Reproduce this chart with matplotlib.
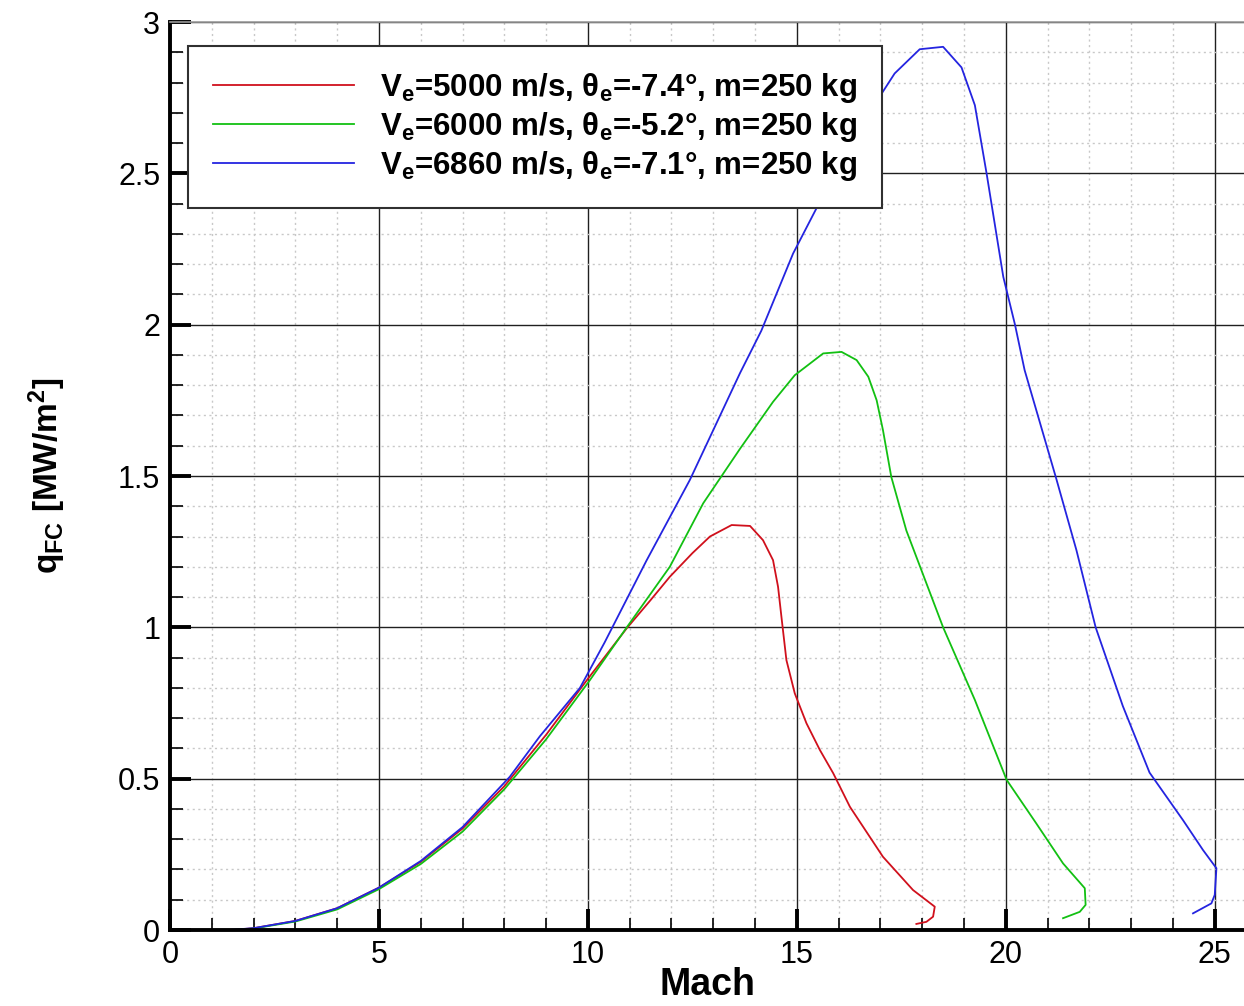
import numpy as np
import matplotlib.pyplot as plt
from matplotlib.ticker import MultipleLocator

plt.rcParams['font.family'] = ['Liberation Sans', 'DejaVu Sans']
plt.rcParams['mathtext.default'] = 'regular'

# data (Mach, q_FC in MW/m^2)
mach_red = [1.5, 2.0, 3.0, 4.0, 5.0, 6.0, 7.0, 8.0, 9.0, 10.0, 10.93, 11.5, 11.96, 12.5, 12.92,
            13.44, 13.88, 14.19, 14.43, 14.55, 14.64, 14.75, 14.95, 15.23, 15.55,
            15.87, 16.27, 17.06, 17.78, 18.30, 18.26, 18.10, 17.86]
q_red = [0.0, 0.006, 0.03, 0.072, 0.14, 0.225, 0.335, 0.475, 0.645, 0.83, 0.997, 1.09, 1.167, 1.245, 1.30,
         1.338, 1.335, 1.288, 1.222, 1.134, 1.024, 0.892, 0.782, 0.683, 0.595,
         0.518, 0.407, 0.242, 0.132, 0.077, 0.044, 0.027, 0.02]

mach_green = [1.5, 2.0, 3.0, 4.0, 5.0, 6.0, 7.0, 8.0, 9.0, 10.05, 10.93, 11.96, 12.76,
              13.64, 14.43, 14.95, 15.63, 16.07, 16.43, 16.71, 16.91, 17.06, 17.26,
              17.62, 18.5, 19.26, 20.02, 20.73, 21.37, 21.89, 21.91, 21.77, 21.37]
q_green = [0.0, 0.005, 0.028, 0.068, 0.135, 0.218, 0.325, 0.465, 0.63, 0.826, 1.0, 1.20, 1.41,
           1.59, 1.745, 1.833, 1.905, 1.91, 1.883, 1.828, 1.75, 1.652, 1.497,
           1.32, 1.0, 0.76, 0.496, 0.352, 0.22, 0.138, 0.083, 0.06, 0.039]

mach_blue = [1.4, 2.0, 3.0, 4.0, 5.0, 6.0, 7.0, 8.13, 8.85, 9.81, 10.4, 11.4, 12.44,
             13.64, 14.15, 14.91, 15.55, 16.5, 17.34, 17.94, 18.5, 18.94, 19.26,
             19.54, 19.94, 20.22, 20.45, 21.21, 21.69, 22.15, 22.8, 23.44, 24.24, 24.72,
             25.04, 25.0, 24.92, 24.48]
q_blue = [0.0, 0.006, 0.03, 0.072, 0.14, 0.228, 0.34, 0.506, 0.64, 0.80, 0.95, 1.22, 1.487,
          1.84, 1.98, 2.235, 2.406, 2.65, 2.83, 2.91, 2.918, 2.85, 2.725,
          2.50, 2.158, 2.0, 1.85, 1.49, 1.255, 1.0, 0.74, 0.52, 0.363, 0.264,
          0.204, 0.116, 0.088, 0.055]

labels = [r'V$_{e}$=5000 m/s, θ$_{e}$=-7.4°, m=250 kg',
          r'V$_{e}$=6000 m/s, θ$_{e}$=-5.2°, m=250 kg',
          r'V$_{e}$=6860 m/s, θ$_{e}$=-7.1°, m=250 kg']

fig = plt.figure(figsize=(12.44, 10.06), dpi=100)
ax = fig.add_axes([170 / 1244, 76 / 1006, 1074 / 1244, 908 / 1006])

ax.plot(mach_red, q_red, color='#d0101c', lw=1.3, label=labels[0])
ax.plot(mach_green, q_green, color='#12c012', lw=1.3, label=labels[1])
ax.plot(mach_blue, q_blue, color='#2424e0', lw=1.3, label=labels[2])

ax.set_xlim(0, 25.7)
ax.set_ylim(0, 3)
ax.xaxis.set_major_locator(MultipleLocator(5))
ax.xaxis.set_minor_locator(MultipleLocator(1))
ax.yaxis.set_major_locator(MultipleLocator(0.5))
ax.yaxis.set_minor_locator(MultipleLocator(0.1))
ax.yaxis.set_major_formatter(plt.FuncFormatter(lambda v, p: '%g' % v))

ax.grid(which='major', color='#202020', lw=1.0, ls='-')
ax.grid(which='minor', color='#c8c8c8', lw=1.0, ls=(0, (1.5, 2.5)))
ax.set_axisbelow(True)

ax.tick_params(which='major', direction='in', length=15, width=2.8, labelsize=22, pad=7,
               top=False, right=False)
ax.tick_params(which='minor', direction='in', length=9, width=1.2, top=False, right=False)

for s in ['left', 'bottom']:
    ax.spines[s].set_linewidth(2.8)
ax.spines['top'].set_color('#9a9a9a')
ax.spines['top'].set_linewidth(1.2)
ax.spines['right'].set_visible(False)

ax.set_xlabel('Mach', fontsize=27, fontweight='bold', labelpad=-2)
ax.set_ylabel(r'q$_{FC}$ [MW/m$^{2}$]', fontsize=24, fontweight='bold', labelpad=36)

leg = ax.legend(loc='upper left', bbox_to_anchor=(18 / 1074, 1 - 24 / 908), borderaxespad=0,
                fancybox=False, framealpha=1, edgecolor='#303030', handlelength=4.5,
                handletextpad=0.85, labelspacing=0.16, borderpad=0.8,
                prop={'size': 22.5, 'weight': 'bold'})
leg.get_frame().set_linewidth(1.5)

fig.savefig('out.png', dpi=100)
